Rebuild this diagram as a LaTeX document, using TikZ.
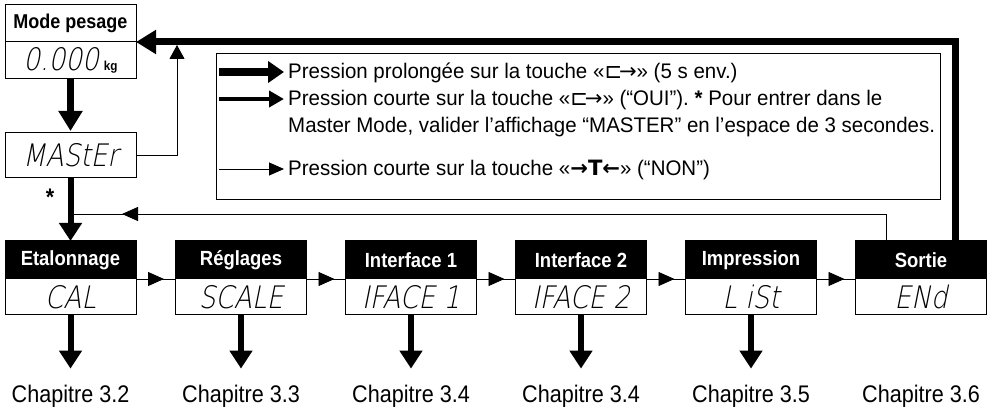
\documentclass[tikz,border=0pt]{standalone}
\usepackage{fontspec}
\setmainfont{Liberation Sans}[FakeStretch=0.9]
\newfontfamily\legfont{Liberation Sans}[FakeStretch=0.97]
\newfontfamily\symfont{DejaVu Sans}
\newfontfamily\segfont{DejaVuSans-ExtraLight.ttf}[FakeSlant=0.2,FakeStretch=0.85]
\usetikzlibrary{arrows.meta,decorations.markings,calc}
\begin{document}
\begin{tikzpicture}[x=1pt,y=-1pt,
  box/.style={draw=black,line width=1pt,minimum width=131pt,inner sep=0pt,outer sep=0pt},
  hdr/.style={box,fill=black,text=white,minimum height=38pt,font=\bfseries\fontsize{20.5}{20}\selectfont},
  whdr/.style={box,fill=white,text=black,minimum height=37pt,font=\bfseries\fontsize{20}{20}\selectfont},
  disp/.style={box,fill=white,minimum height=36pt,font=\segfont\fontsize{31}{31}\selectfont},
  chap/.style={font=\fontsize{24}{24}\selectfont,inner sep=0pt},
  legtxt/.style={anchor=base west,inner sep=0pt,font=\legfont\fontsize{21.1}{21}\selectfont},
  thickarr/.style={line width=7pt,-{Triangle[length=20pt,width=23pt]}},
  medarr/.style={line width=6pt,-{Triangle[length=18pt,width=22pt]}},
  thinarr/.style={line width=0.9pt,-{Triangle[length=14pt,width=15pt]}},
  midarr/.style={line width=0.9pt,postaction={decorate},decoration={markings,mark=at position #1 with {\arrow{Triangle[length=16pt,width=14pt]}}}}
]
\useasboundingbox (0,0) rectangle (991,411);
% Mode pesage
\node[whdr] (mph) at (70.5,23.5) {Mode pesage};
\node[disp,minimum height=37pt] (mpd) at (70.5,60.5) {0.000\hspace{5pt}{\rmfamily\bfseries\fontsize{13}{13}\selectfont kg}};
\node[disp,minimum height=45pt] (master) at (70.5,155.5) {MAStEr};
% row of menus
\foreach \i/\x/\h/\d in {1/70.5/Etalonnage/CAL\hspace{16pt},2/241/Réglages/SCALE,3/411/Interface 1/IFACE 1,4/581/Interface 2/IFACE 2,5/751/Impression/L iSt,6/921/Sortie/ENd}{
  \node[hdr] (h\i) at (\x,260) {\h};
  \node[disp] (d\i) at (\x,297) {\d};
}
\foreach \i/\x/\n in {1/70.5/3.2,2/241/3.3,3/411/3.4,4/581/3.4,5/751/3.5,6/921/3.6}{
  \node[chap] (c\i) at (\x,396) {Chapitre \n};
}
\foreach \i in {1,...,5}{
  \draw[medarr,shorten >=16pt] (d\i.south) -- (c\i.north);
}
\foreach \a/\b in {1/2,2/3,3/4,4/5,5/6}{
  \draw[midarr=28pt] (d\a.north east) -- (d\b.north west);
}
% star
\node[inner sep=0pt,font=\bfseries\fontsize{24}{24}\selectfont] (star) at (50,197) {*};
% main connectors
\draw[thickarr,shorten >=2pt] (mpd.south) -- (master.north);
\draw[medarr] (master.south) -- (h1.north);
\coordinate (up) at (177,45);
\draw[thinarr] (master.east) -| (up);
\coordinate (s6) at ($(h6.north)+(34,0)$);
\draw[thickarr] (s6) |- (mph.south east);
\coordinate (t6) at ($(h6.north)+(-35,0)$);
\coordinate (j1) at (73,214);
\draw[midarr=-49pt] (t6) |- (j1);
% legend
\node[draw=black,line width=1pt,minimum width=724pt,minimum height=146pt,inner sep=0pt] (leg) at (578,127) {};
\coordinate (l1a) at (219,72); \coordinate (l1b) at (284,72);
\coordinate (l2a) at (219,99); \coordinate (l2b) at (284,99);
\coordinate (l3a) at (219,169); \coordinate (l3b) at (284,169);
\draw[line width=8pt,-{Triangle[length=16pt,width=21pt]}] (l1a) -- (l1b);
\draw[line width=4.5pt,-{Triangle[length=15pt,width=16pt]}] (l2a) -- (l2b);
\draw[line width=0.9pt,-{Triangle[length=15pt,width=13pt]}] (l3a) -- (l3b);
\node[legtxt] (t1) at (288,79) {Pression prolongée sur la touche «{\symfont ⊏\kern-0.15em→}» (5 s env.)};
\node[legtxt] (t2) at (288,106) {Pression courte sur la touche «{\symfont ⊏\kern-0.15em→}» (“OUI”). \textbf{*} Pour entrer dans le};
\node[legtxt] (t2b) at (288,133) {Master Mode, valider l’affichage “MASTER” en l’espace de 3 secondes.};
\node[legtxt] (t3) at (288,176) {Pression courte sur la touche «{\symfont\bfseries →T←}» (“NON”)};
\end{tikzpicture}
\end{document}
